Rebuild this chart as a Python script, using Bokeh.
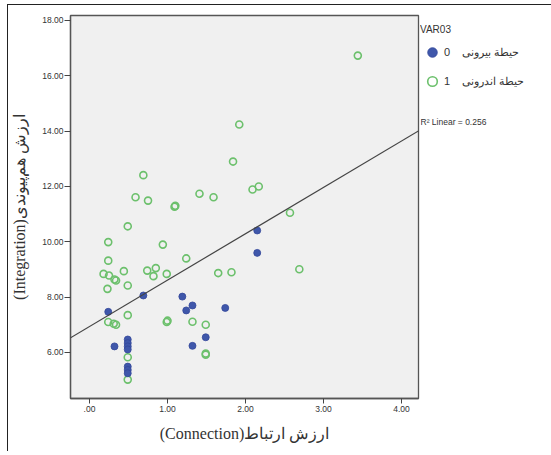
from bokeh.plotting import figure
from bokeh.layouts import row
from bokeh.models import (Range1d, FixedTicker, Legend, LegendItem, Label, Slope)
from bokeh.embed import file_html
from bokeh.resources import INLINE

# ---- data ----
# group 0: outer domain (blue, filled)
conn_outer = [2.15, 2.15, 0.69, 1.19, 1.32, 1.24, 1.74, 0.24, 0.32, 1.32, 1.49,
              0.49, 0.49, 0.49, 0.49, 0.49, 0.49, 0.49]
integ_outer = [10.41, 9.60, 8.06, 8.02, 7.70, 7.52, 7.61, 7.47, 6.22, 6.24, 6.55,
               6.47, 6.34, 6.22, 6.11, 5.49, 5.37, 5.25]
# group 1: inner domain (green, open)
conn_inner = [3.44, 1.92, 1.84, 0.69, 0.59, 0.75, 1.09, 1.10, 1.41, 1.59, 2.09,
              2.17, 2.57, 0.49, 0.24, 0.94, 1.24, 0.24, 2.69, 0.74, 0.85, 0.82,
              0.99, 0.44, 0.18, 0.25, 0.32, 0.34, 0.23, 0.49, 1.65, 1.82, 0.24,
              0.31, 0.34, 0.49, 0.99, 1.00, 1.32, 1.49, 1.49, 1.49, 0.49, 0.49]
integ_inner = [16.73, 14.24, 12.90, 12.41, 11.61, 11.49, 11.27, 11.30, 11.74, 11.61, 11.89,
               12.00, 11.05, 10.56, 9.99, 9.90, 9.40, 9.32, 9.01, 8.96, 9.05, 8.76,
               8.84, 8.94, 8.84, 8.78, 8.64, 8.60, 8.30, 8.42, 8.87, 8.90, 7.10,
               7.04, 7.00, 7.35, 7.10, 7.15, 7.11, 7.00, 5.92, 5.96, 5.83, 5.02]

# fit line (total sample)
fit_intercept = 6.94
fit_slope = 1.676
r2_text = "R\u00b2 Linear = 0.256"

x_ticks = [0, 1, 2, 3, 4]
x_tick_labels = [".00", "1.00", "2.00", "3.00", "4.00"]
y_ticks = [6, 8, 10, 12, 14, 16, 18]
y_tick_labels = ["6.00", "8.00", "10.00", "12.00", "14.00", "16.00", "18.00"]

legend_title = "VAR03"
label_outer = "0\u00a0\u00a0\u00a0\u00a0حيطة بيرونى"
label_inner = "1\u00a0\u00a0\u00a0\u00a0حيطة اندرونى"
x_label = "(Connection)ارزش ارتباط"
y_label = "(Integration)ارزش هم\u200cپیوندی"

BLUE = "#3f57aa"
GREEN = "#6cc06c"
BLUE_EDGE = "#34489a"

H = 446

# ---- main scatter figure ----
p = figure(frame_width=348, frame_height=383,
           min_border_left=62, min_border_right=2,
           min_border_top=10, min_border_bottom=53,
           x_range=Range1d(-0.244, 4.218), y_range=Range1d(4.337, 18.18),
           output_backend="svg", toolbar_location=None,
           background_fill_color="#f0f0f0", border_fill_color="white")
p.outline_line_color = "#555555"
p.outline_line_width = 1.3
p.grid.visible = False

for ax in (p.xaxis[0], p.yaxis[0]):
    ax.axis_line_color = "#555555"
    ax.axis_line_width = 1.3
    ax.major_tick_line_color = "#444444"
    ax.major_tick_in = 0
    ax.minor_tick_line_color = None
    ax.major_label_text_font = "Liberation Sans"
    ax.major_label_text_font_size = "8.5px"
    ax.major_label_text_color = "#333333"
    ax.axis_label_text_font = "Liberation Serif"
    ax.axis_label_text_font_size = "16px"
    ax.axis_label_text_font_style = "normal"
    ax.axis_label_text_color = "#333333"

p.xaxis[0].ticker = FixedTicker(ticks=x_ticks)
p.xaxis[0].major_label_overrides = dict(zip(x_ticks, x_tick_labels))
p.xaxis[0].major_tick_out = 5
p.xaxis[0].major_label_standoff = 2
p.xaxis[0].axis_label = x_label
p.xaxis[0].axis_label_standoff = 10

p.yaxis[0].ticker = FixedTicker(ticks=y_ticks)
p.yaxis[0].major_label_overrides = dict(zip(y_ticks, y_tick_labels))
p.yaxis[0].major_tick_out = 6
p.yaxis[0].major_label_standoff = 1
p.yaxis[0].axis_label = y_label
p.yaxis[0].axis_label_standoff = 11

p.add_layout(Slope(gradient=fit_slope, y_intercept=fit_intercept,
                   line_color="#444444", line_width=1.2))

p.scatter(conn_inner, integ_inner, marker="circle", size=7,
          fill_color=None, line_color=GREEN, line_width=1.6)
p.scatter(conn_outer, integ_outer, marker="circle", size=7,
          fill_color=BLUE, line_color=BLUE_EDGE, line_width=0.8)

# ---- side panel: legend and R2 note (pixel coordinates) ----
side_w = 131
side_top = 9
side_h = H - side_top
y0 = 30  # side panel range starts above the data values, so its copies stay hidden
s = figure(width=side_w, height=side_h, min_border=0,
           x_range=Range1d(0, side_w), y_range=Range1d(y0, y0 + side_h),
           x_axis_location=None, y_axis_location=None,
           output_backend="svg", toolbar_location=None,
           background_fill_color="white", border_fill_color="white",
           margin=(side_top, 0, 0, 0))
s.outline_line_color = None
s.grid.visible = False

# legend sources: same groups, same styles (the points fall outside this panel's range)
lg_out = s.scatter(conn_outer, integ_outer, marker="circle", size=7,
                   fill_color=BLUE, line_color=BLUE_EDGE, line_width=0.8)
lg_in = s.scatter(conn_inner, integ_inner, marker="circle", size=7,
                  fill_color=None, line_color=GREEN, line_width=1.6)

legend = Legend(items=[LegendItem(label=label_outer, renderers=[lg_out]),
                       LegendItem(label=label_inner, renderers=[lg_in])],
                location="top_left", title=legend_title)
legend.margin = 0
legend.padding = 3
legend.title_text_font = "Liberation Sans"
legend.title_text_font_size = "10px"
legend.title_text_font_style = "normal"
legend.title_text_color = "#333333"
legend.title_standoff = 5
legend.label_text_font = "Liberation Sans"
legend.label_text_font_size = "11px"
legend.label_text_color = "#333333"
legend.glyph_width = 24
legend.glyph_height = 24
legend.label_height = 24
legend.label_standoff = 0
legend.spacing = 5
legend.border_line_color = None
legend.background_fill_alpha = 0
s.add_layout(legend)

s.add_layout(Label(x=0, y=y0 + side_h - 114, text=r2_text, text_align="left",
                   text_baseline="middle",
                   text_font="Liberation Sans", text_font_size="8.5px",
                   text_color="#333333"))

layout = row(p, s, margin=(4, 0, 0, 7),
             styles={"border-top": "1px solid #222", "border-left": "1px solid #222"})

open("out.html", "w").write(file_html(layout, INLINE))
